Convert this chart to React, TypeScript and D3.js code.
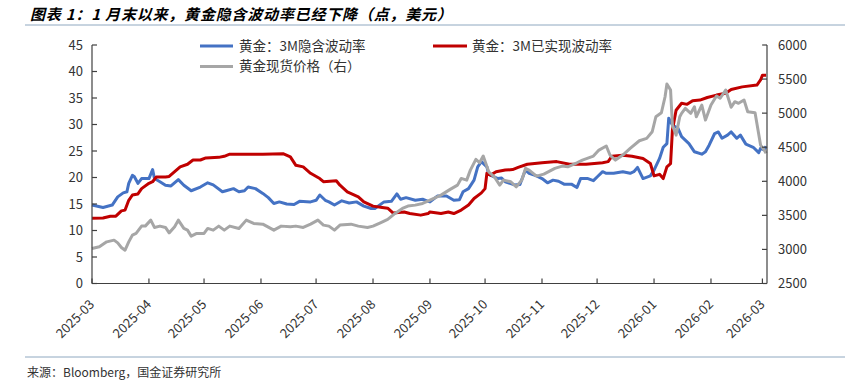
import React from "react";
import * as d3 from "d3";

const TITLE = "图表 1：1 月末以来，黄金隐含波动率已经下降（点，美元）";
const SOURCE = "来源：Bloomberg，国金证券研究所";
const SERIES_NAMES = ["黄金：3M隐含波动率", "黄金：3M已实现波动率", "黄金现货价格（右）"];
const SERIES_COLORS = ["#4472C4", "#C00000", "#A6A6A6"];
const LEFT_TICKS = [0, 5, 10, 15, 20, 25, 30, 35, 40, 45];
const RIGHT_TICKS = [2500, 3000, 3500, 4000, 4500, 5000, 5500, 6000];

const ivDates = [
  "2025-03-01","2025-03-07","2025-03-12","2025-03-15","2025-03-18","2025-03-20","2025-03-21","2025-03-23","2025-03-24","2025-03-26",
  "2025-03-28","2025-04-01","2025-04-03","2025-04-04","2025-04-07","2025-04-10","2025-04-13","2025-04-17","2025-04-20","2025-04-24",
  "2025-04-29","2025-05-03","2025-05-06","2025-05-11","2025-05-13","2025-05-17","2025-05-20","2025-05-23","2025-05-25","2025-05-29",
  "2025-06-02","2025-06-05","2025-06-08","2025-06-11","2025-06-15","2025-06-19","2025-06-22","2025-06-28","2025-07-01","2025-07-03",
  "2025-07-06","2025-07-08","2025-07-11","2025-07-15","2025-07-19","2025-07-23","2025-07-27","2025-07-31","2025-08-02","2025-08-07",
  "2025-08-11","2025-08-14","2025-08-16","2025-08-19","2025-08-24","2025-08-28","2025-08-31","2025-09-01","2025-09-05","2025-09-10",
  "2025-09-14","2025-09-17","2025-09-19","2025-09-22","2025-09-25","2025-09-27","2025-09-29","2025-10-02","2025-10-03","2025-10-08",
  "2025-10-10","2025-10-12","2025-10-17","2025-10-20","2025-10-23","2025-10-25","2025-10-29","2025-11-01","2025-11-04","2025-11-07",
  "2025-11-10","2025-11-13","2025-11-17","2025-11-20","2025-11-22","2025-11-26","2025-11-29","2025-12-01","2025-12-04","2025-12-06",
  "2025-12-10","2025-12-15","2025-12-19","2025-12-21","2025-12-23","2025-12-26","2025-12-30","2026-01-01","2026-01-04","2026-01-06",
  "2026-01-08","2026-01-09","2026-01-11","2026-01-14","2026-01-16","2026-01-20","2026-01-23","2026-01-27","2026-01-29","2026-01-31",
  "2026-02-03","2026-02-05","2026-02-07","2026-02-10","2026-02-12","2026-02-15","2026-02-17","2026-02-20","2026-02-24","2026-02-27",
  "2026-02-28","2026-03-02","2026-03-03"
];
const ivValues = [
  14.8,14.35,14.8,16.35,17.1,17.3,18.9,20.4,20.2,18.9,
  19.8,19.8,21.5,19.8,19.2,18.55,18.4,19.6,18.55,17.5,
  18.2,19.0,18.6,17.3,17.5,17.9,17.3,17.5,18.2,17.9,
  17.0,16.2,15.1,15.4,15.0,14.9,15.5,15.4,15.7,16.7,
  15.7,15.4,14.8,15.6,15.2,15.4,14.6,14.15,14.15,15.4,
  15.5,16.9,15.9,16.2,15.7,15.9,15.5,15.4,16.5,16.5,
  15.7,15.8,17.3,17.9,19.5,22.0,23.0,22.0,20.6,19.8,
  19.9,19.2,18.6,18.7,21.4,20.8,20.3,19.8,19.0,19.5,
  19.3,18.75,18.75,18.1,19.8,19.8,19.4,20.1,21.1,20.8,
  20.8,21.1,20.8,21.1,21.9,19.8,20.3,21.4,23.6,25.7,
  26.4,31.2,29.9,29.3,27.7,26.4,24.85,24.4,24.85,26.1,
  28.3,28.6,27.4,28.0,28.6,27.4,28.0,26.3,25.7,24.7,
  25.5,25.2,25.9
];

const rvDates = [
  "2025-03-01","2025-03-07","2025-03-11","2025-03-14","2025-03-17","2025-03-19","2025-03-21","2025-03-23","2025-03-26","2025-03-28",
  "2025-04-01","2025-04-03","2025-04-05","2025-04-10","2025-04-12","2025-04-15","2025-04-18","2025-04-22","2025-04-25","2025-04-29",
  "2025-05-02","2025-05-09","2025-05-12","2025-05-15","2025-05-24","2025-06-02","2025-06-13","2025-06-17","2025-06-20","2025-06-24",
  "2025-06-28","2025-07-03","2025-07-05","2025-07-12","2025-07-14","2025-07-18","2025-07-24","2025-07-27","2025-08-01","2025-08-06",
  "2025-08-09","2025-08-12","2025-08-18","2025-08-21","2025-08-27","2025-08-31","2025-09-01","2025-09-07","2025-09-11","2025-09-14",
  "2025-09-18","2025-09-22","2025-09-25","2025-09-29","2025-10-01","2025-10-02","2025-10-04","2025-10-07","2025-10-12","2025-10-16",
  "2025-10-19","2025-10-24","2025-11-01","2025-11-09","2025-11-16","2025-11-25","2025-12-04","2025-12-07","2025-12-09","2025-12-15",
  "2025-12-20","2025-12-26","2025-12-30","2026-01-01","2026-01-04","2026-01-06","2026-01-08","2026-01-10","2026-01-11","2026-01-13",
  "2026-01-16","2026-01-19","2026-01-22","2026-01-26","2026-01-30","2026-02-04","2026-02-09","2026-02-12","2026-02-18","2026-02-26",
  "2026-02-28","2026-03-01","2026-03-03"
];
const rvValues = [
  12.3,12.35,12.7,12.7,13.7,13.85,15.7,16.7,16.9,17.9,
  18.9,19.2,20.1,20.1,20.2,21.1,22.0,22.5,23.3,23.3,
  23.7,23.8,24.0,24.4,24.4,24.4,24.5,23.9,22.3,22.0,
  20.8,19.8,19.2,19.4,18.55,17.3,16.35,15.4,14.6,14.35,
  14.2,13.3,13.5,13.2,12.9,13.2,13.5,13.2,13.5,13.2,
  13.85,14.8,16.05,17.1,17.9,20.8,20.45,21.1,21.4,21.5,
  21.9,22.5,22.8,23.0,22.5,22.5,22.8,23.0,24.0,24.2,
  24.0,23.6,22.65,20.3,20.6,19.8,22.0,22.6,28.95,32.7,
  34.0,33.8,34.5,34.6,35.1,35.55,35.9,36.6,37.1,37.45,
  38.4,39.3,39.3
];

const priceDates = [
  "2025-03-01","2025-03-05","2025-03-09","2025-03-13","2025-03-15","2025-03-17","2025-03-19","2025-03-21","2025-03-23","2025-03-25",
  "2025-03-28","2025-03-30","2025-04-02","2025-04-04","2025-04-07","2025-04-10","2025-04-12","2025-04-15","2025-04-17","2025-04-20",
  "2025-04-22","2025-04-24","2025-04-27","2025-05-01","2025-05-03","2025-05-06","2025-05-09","2025-05-12","2025-05-15","2025-05-20",
  "2025-05-24","2025-05-28","2025-06-02","2025-06-08","2025-06-12","2025-06-17","2025-06-20","2025-06-24","2025-06-28","2025-07-02",
  "2025-07-05","2025-07-08","2025-07-11","2025-07-14","2025-07-20","2025-07-24","2025-07-29","2025-08-01","2025-08-05","2025-08-09",
  "2025-08-13","2025-08-17","2025-08-20","2025-08-24","2025-08-28","2025-09-01","2025-09-07","2025-09-12","2025-09-16","2025-09-18",
  "2025-09-21","2025-09-23","2025-09-26","2025-09-28","2025-09-30","2025-10-03","2025-10-06","2025-10-09","2025-10-11","2025-10-15",
  "2025-10-18","2025-10-21","2025-10-23","2025-10-25","2025-10-29","2025-11-02","2025-11-08","2025-11-12","2025-11-15","2025-11-20",
  "2025-11-23","2025-11-29","2025-12-02","2025-12-06","2025-12-08","2025-12-11","2025-12-15","2025-12-19","2025-12-24","2025-12-28",
  "2025-12-31","2026-01-02","2026-01-05","2026-01-07","2026-01-08","2026-01-10","2026-01-11","2026-01-13","2026-01-15","2026-01-16",
  "2026-01-18","2026-01-21","2026-01-23","2026-01-24","2026-01-27","2026-01-29","2026-02-01","2026-02-04","2026-02-06","2026-02-09",
  "2026-02-12","2026-02-14","2026-02-16","2026-02-19","2026-02-21","2026-02-25","2026-02-28","2026-03-02","2026-03-03"
];
const priceValues = [
  3014,3038,3111,3136,3096,3029,2989,3111,3210,3235,
  3342,3342,3430,3323,3342,3323,3243,3332,3430,3308,
  3283,3195,3235,3235,3308,3283,3342,3283,3342,3308,
  3430,3381,3371,3283,3342,3332,3342,3323,3371,3430,
  3357,3342,3283,3357,3371,3342,3323,3342,3391,3440,
  3528,3602,3636,3650,3675,3724,3797,3881,3944,4042,
  4017,4164,4321,4272,4370,4139,4066,3944,4017,3993,
  3919,4017,4189,4164,4076,4105,4189,4223,4213,4272,
  4311,4370,4458,4517,4385,4311,4385,4483,4595,4630,
  4727,4947,5006,5241,5428,5340,4826,4678,4947,4997,
  5071,4997,5094,4947,5119,4899,5119,5251,5218,5340,
  5086,5168,5144,5193,5021,5006,4532,4458,4410
];

const parse = d3.timeParse("%Y-%m-%d");
const FONT = "'Noto Sans CJK SC', 'Noto Sans', sans-serif";

export default function App() {
  const W = 850, H = 388;
  const left = 92, right = 767, top = 45, bottom = 283.5;
  const x = d3.scaleTime()
    .domain([new Date(2025, 2, 1), new Date(2026, 2, 3, 12)])
    .range([left, right]);
  const yL = d3.scaleLinear().domain([0, 45]).range([bottom, top]);
  const yR = d3.scaleLinear().domain([2500, 6000]).range([bottom, top]);

  const mk = (dates: string[], vals: number[]) => dates.map((d, i) => ({ date: parse(d) as Date, v: vals[i] }));
  const iv = mk(ivDates, ivValues);
  const rv = mk(rvDates, rvValues);
  const px = mk(priceDates, priceValues);

  const lineL = d3.line<{ date: Date; v: number }>().x(d => x(d.date)).y(d => yL(d.v));
  const lineR = d3.line<{ date: Date; v: number }>().x(d => x(d.date)).y(d => yR(d.v));

  const months = d3.timeMonth.range(new Date(2025, 2, 1), new Date(2026, 2, 2));
  const fmt = d3.timeFormat("%Y-%m");
  const axisColor = "#404040";
  const textColor = "#333333";

  return (
    <svg width={W} height={H} style={{ position: "absolute", left: 0, top: 0, background: "#fff" }} fontFamily={FONT}>
      <rect x={0} y={0} width={W} height={H} fill="#fff" />
      <text x={30} y={19.5} fontSize={15} fontStyle="italic" fontWeight={700} letterSpacing={0.8} fill="#000">{TITLE}</text>
      <line x1={25} x2={845} y1={25} y2={25} stroke="#8FA8C0" strokeWidth={1} />

      {/* lines */}
      <path d={lineL(iv) || ""} fill="none" stroke={SERIES_COLORS[0]} strokeWidth={3} strokeLinejoin="round" />
      <path d={lineL(rv) || ""} fill="none" stroke={SERIES_COLORS[1]} strokeWidth={3} strokeLinejoin="round" />
      <path d={lineR(px) || ""} fill="none" stroke={SERIES_COLORS[2]} strokeWidth={3} strokeLinejoin="round" />

      {/* axes */}
      <line x1={left} x2={left} y1={top} y2={bottom} stroke={axisColor} strokeWidth={1.2} />
      <line x1={right} x2={right} y1={top} y2={bottom} stroke={axisColor} strokeWidth={1.2} />
      <line x1={left} x2={right} y1={bottom} y2={bottom} stroke={axisColor} strokeWidth={1.2} />
      {LEFT_TICKS.map(t => (
        <g key={"l" + t}>
          <line x1={left} x2={left + 5} y1={yL(t)} y2={yL(t)} stroke={axisColor} strokeWidth={1.2} />
          <text x={83} y={yL(t)} dy="0.35em" textAnchor="end" fontSize={13} fill={textColor}>{t}</text>
        </g>
      ))}
      {RIGHT_TICKS.map(t => (
        <g key={"r" + t}>
          <line x1={right - 5} x2={right} y1={yR(t)} y2={yR(t)} stroke={axisColor} strokeWidth={1.2} />
          <text x={778} y={yR(t)} dy="0.35em" textAnchor="start" fontSize={13} fill={textColor}>{t}</text>
        </g>
      ))}
      {months.map(m => (
        <g key={m.toISOString()}>
          <line x1={x(m)} x2={x(m)} y1={bottom} y2={bottom - 5} stroke={axisColor} strokeWidth={1.2} />
          <text transform={`translate(${x(m)},302) rotate(-45)`} dy="0.35em" textAnchor="end" fontSize={13} fill={textColor}>{fmt(m)}</text>
        </g>
      ))}

      {/* legend */}
      <line x1={200} x2={233} y1={46} y2={46} stroke={SERIES_COLORS[0]} strokeWidth={3} />
      <text x={239} y={46} dy="0.35em" fontSize={13.5} fill={textColor}>{SERIES_NAMES[0]}</text>
      <line x1={433} x2={467} y1={46} y2={46} stroke={SERIES_COLORS[1]} strokeWidth={3} />
      <text x={472} y={46} dy="0.35em" fontSize={13.5} fill={textColor}>{SERIES_NAMES[1]}</text>
      <line x1={200} x2={233} y1={66.5} y2={66.5} stroke={SERIES_COLORS[2]} strokeWidth={3} />
      <text x={239} y={66.5} dy="0.35em" fontSize={13.5} fill={textColor}>{SERIES_NAMES[2]}</text>

      <line x1={25} x2={845} y1={357} y2={357} stroke="#8FA8C0" strokeWidth={1} />
      <text x={27} y={376.5} fontSize={12} fill={textColor}>{SOURCE}</text>
    </svg>
  );
}
